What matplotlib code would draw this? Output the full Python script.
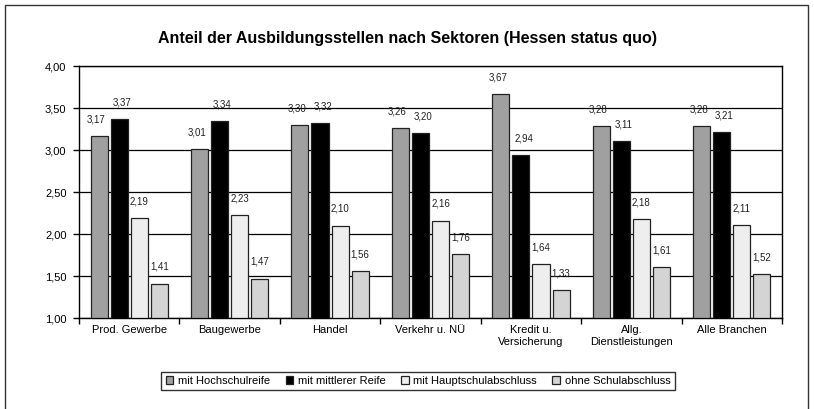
import numpy as np
import matplotlib.pyplot as plt
from matplotlib.patches import Rectangle

plt.rcParams['font.family'] = ['Liberation Sans', 'DejaVu Sans']

# Sectors and average values per school leaving qualification
sectors = ['Prod. Gewerbe', 'Baugewerbe', 'Handel', 'Verkehr u. NÜ',
           'Kredit u.\nVersicherung', 'Allg.\nDienstleistungen', 'Alle Branchen']
series = ['mit Hochschulreife', 'mit mittlerer Reife',
          'mit Hauptschulabschluss', 'ohne Schulabschluss']
hochschulreife = [3.17, 3.01, 3.30, 3.26, 3.67, 3.28, 3.28]
mittlere_reife = [3.37, 3.34, 3.32, 3.20, 2.94, 3.11, 3.21]
hauptschule = [2.19, 2.23, 2.10, 2.16, 1.64, 2.18, 2.11]
ohne_abschluss = [1.41, 1.47, 1.56, 1.76, 1.33, 1.61, 1.52]

values = [hochschulreife, mittlere_reife, hauptschule, ohne_abschluss]
colors = ['#a0a0a0', '#000000', '#eeeeee', '#d4d4d4']
label_dx = [-2, 2, 0, 0]

fig = plt.figure(figsize=(8.14, 4.09), dpi=100)
ax = fig.add_axes([79/814, 91/409, 703/814, 252/409])

x = np.arange(len(sectors))
width = 0.17
step = 0.2
for i, (vals, col) in enumerate(zip(values, colors)):
    pos = x + (i - 1.5) * step
    ax.bar(pos, np.array(vals) - 1.0, bottom=1.0, width=width, color=col,
           edgecolor='#222222', linewidth=0.9, label=series[i], zorder=3)
    for xp, v in zip(pos, vals):
        ax.annotate(f'{v:.2f}'.replace('.', ','), (xp, v), xytext=(label_dx[i], 12),
                    textcoords='offset points', ha='center', va='center',
                    fontsize=7, color='#222222', zorder=4)

ax.set_xlim(-0.5, len(sectors) - 0.5)
ax.set_ylim(1.0, 4.0)
ax.set_yticks(np.arange(1.0, 4.01, 0.5))
ax.set_yticklabels([f'{t:.2f}'.replace('.', ',') for t in np.arange(1.0, 4.01, 0.5)])
ax.yaxis.grid(True, color='black', linewidth=0.9, zorder=0)

# ticks between the categories, labels centred below
ax.set_xticks(np.arange(-0.5, len(sectors), 1.0))
ax.set_xticklabels([])
ax.set_xticks(x, minor=True)
ax.set_xticklabels(sectors, minor=True, fontsize=8)
ax.tick_params(axis='x', which='minor', length=0, pad=5)
ax.tick_params(axis='x', which='major', length=4, width=1, direction='out')
ax.tick_params(axis='y', length=4, width=1, labelsize=8, pad=5)
for s in ax.spines.values():
    s.set_linewidth(1)
    s.set_color('black')

fig.text(0.5, 1 - 38/409, 'Anteil der Ausbildungsstellen nach Sektoren (Hessen status quo)',
         ha='center', va='center', fontsize=11.5, fontweight='bold')

leg = fig.legend(loc='center', bbox_to_anchor=(418/814, 1 - 381/409), ncol=4,
                 fontsize=8, frameon=True, fancybox=False, edgecolor='black',
                 handlelength=0.7, handleheight=0.7, handletextpad=0.4,
                 columnspacing=1.4, borderpad=0.4)
leg.get_frame().set_linewidth(1)

# outer chart frame
fig.patches.append(Rectangle((5/814, -0.1), 803/814, 1.1 - 5/409, transform=fig.transFigure,
                             fill=False, edgecolor='#333333', linewidth=1))

fig.savefig('out.png', dpi=100)
